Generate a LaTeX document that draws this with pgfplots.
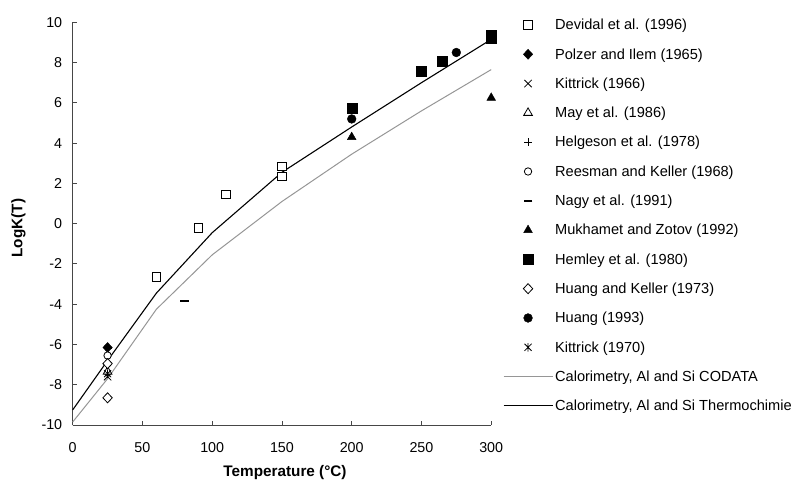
\documentclass[border=0pt]{standalone}
\usepackage{pgfplots}
\pgfplotsset{compat=1.18}
\usepackage{fontspec}
\setmainfont{Liberation Sans}
\definecolor{codata}{RGB}{150,150,150}
\definecolor{axcol}{RGB}{70,70,70}
\pgfdeclareplotmark{xstar}{%
 \pgfpathmoveto{\pgfqpoint{-.7071\pgfplotmarksize}{-.7071\pgfplotmarksize}}%
 \pgfpathlineto{\pgfqpoint{.7071\pgfplotmarksize}{.7071\pgfplotmarksize}}%
 \pgfpathmoveto{\pgfqpoint{-.7071\pgfplotmarksize}{.7071\pgfplotmarksize}}%
 \pgfpathlineto{\pgfqpoint{.7071\pgfplotmarksize}{-.7071\pgfplotmarksize}}%
 \pgfpathmoveto{\pgfqpoint{0pt}{-.85\pgfplotmarksize}}%
 \pgfpathlineto{\pgfqpoint{0pt}{.85\pgfplotmarksize}}%
 \pgfusepathqstroke}
\begin{document}
\begin{tikzpicture}[font=\fontsize{14bp}{16bp}\selectfont]
\useasboundingbox (0,0) rectangle (792bp,484bp);
\begin{axis}[
  at={(72.7bp,59bp)}, anchor=south west,
  scale only axis, width=418.5bp, height=402.7bp,
  xmin=0, xmax=300, ymin=-10, ymax=10,
  xtick={0,50,...,300}, ytick={-10,-8,...,10},
  axis lines=left, axis line style={-, axcol, line width=0.9bp},
  tick style={axcol, line width=0.9bp}, major tick length=4bp, tick align=inside,
  /pgf/number format/assume math mode=true,
  tick label style={font=\fontsize{14.3bp}{16bp}\selectfont, black},
  xticklabel style={yshift=-14bp},
  yticklabel style={xshift=-7bp},
  xlabel={\bfseries Temperature (°C)},
  ylabel={\bfseries LogK(T)},
  label style={font=\fontsize{15.3bp}{17bp}\selectfont},
  xlabel style={at={(axis description cs:0.5073,-0.1192)}, anchor=center},
  ylabel style={at={(axis description cs:-0.1295,0.489)}, anchor=center},
  clip=false,
  legend cell align=left,
  legend image code/.code={\draw[mark repeat=2,mark phase=2,#1] plot coordinates {(0bp,0bp) (24.5bp,0bp) (49bp,0bp)};},
  legend style={draw=none, fill=none, at={(rel axis cs:1.0282,1.0101)}, anchor=north west,
    inner sep=0pt, outer sep=0pt, row sep=15.8bp, column sep=2bp,
    nodes={inner sep=0pt, text height=11.5bp, text depth=2bp, font=\fontsize{14.6bp}{16bp}\selectfont}},
]
% Devidal et al. (1996)
\addplot[only marks, mark=square*, mark size=4.3bp, mark options={fill=white, draw=black, line width=0.8bp}]
  coordinates {(60,-2.65) (90,-0.2) (110,1.45) (150,2.85) (150,2.35)};
\addlegendentry{Devidal et al. (1996)}
% Polzer and Ilem (1965)
\addplot[only marks, mark=diamond*, mark size=5bp, mark options={fill=black, draw=black, xscale=1.25}]
  coordinates {(25,-6.15)};
\addlegendentry{Polzer and Ilem (1965)}
% Kittrick (1966)
\addplot[only marks, mark=x, mark size=5.2bp, mark options={black, line width=0.8bp}]
  coordinates {(25,-7.6)};
\addlegendentry{Kittrick (1966)}
% May et al. (1986)
\addplot[only marks, mark=triangle*, mark size=5bp, mark options={fill=white, draw=black, line width=0.8bp}]
  coordinates {(25,-7.35)};
\addlegendentry{May et al. (1986)}
% Helgeson et al. (1978)
\addplot[only marks, mark=+, mark size=4bp, mark options={black, line width=0.8bp}]
  coordinates {(25,-6.2)};
\addlegendentry{Helgeson et al. (1978)}
% Reesman and Keller (1968)
\addplot[only marks, mark=*, mark size=3.7bp, mark options={fill=white, draw=black, line width=0.8bp}]
  coordinates {(25,-6.55)};
\addlegendentry{Reesman and Keller (1968)}
% Nagy et al. (1991)
\addplot[only marks, mark=-, mark size=4.2bp, mark options={black, line width=2bp}]
  coordinates {(80,-3.85)};
\addlegendentry{Nagy et al. (1991)}
% Mukhamet and Zotov (1992)
\addplot[only marks, mark=triangle*, mark size=5bp, mark options={fill=black, draw=black}]
  coordinates {(200,4.3) (300,6.25)};
\addlegendentry{Mukhamet and Zotov (1992)}
% Hemley et al. (1980)
\addplot[only marks, mark=square*, mark size=5bp, mark options={fill=black, draw=black}]
  coordinates {(200,5.75) (250,7.55) (265,8.05) (300,9.35) (300,9.2)};
\addlegendentry{Hemley et al. (1980)}
% Huang and Keller (1973)
\addplot[only marks, mark=diamond*, mark size=5bp, mark options={fill=white, draw=black, line width=0.8bp, xscale=1.25}]
  coordinates {(25,-6.95) (25,-8.65)};
\addlegendentry{Huang and Keller (1973)}
% Huang (1993)
\addplot[only marks, mark=*, mark size=4.4bp, mark options={fill=black, draw=black}]
  coordinates {(200,5.2) (275,8.5)};
\addlegendentry{Huang (1993)}
% Kittrick (1970)
\addplot[only marks, mark=xstar, mark size=5bp, mark options={black, line width=0.8bp}]
  coordinates {(25,-7.45)};
\addlegendentry{Kittrick (1970)}
% Calorimetry CODATA
\addplot[codata, line width=1bp, mark=none]
  coordinates {(0,-9.85) (25,-7.7) (60,-4.25) (100,-1.55) (150,1.1) (200,3.45) (250,5.6) (300,7.65)};
\addlegendentry{Calorimetry, Al and Si CODATA}
% Calorimetry Thermochimie
\addplot[black, line width=1.1bp, mark=none]
  coordinates {(0,-9.25) (25,-6.8) (60,-3.45) (100,-0.45) (150,2.55) (200,4.8) (250,7.0) (300,9.15)};
\addlegendentry{Calorimetry, Al and Si Thermochimie}
\end{axis}
\end{tikzpicture}
\end{document}
